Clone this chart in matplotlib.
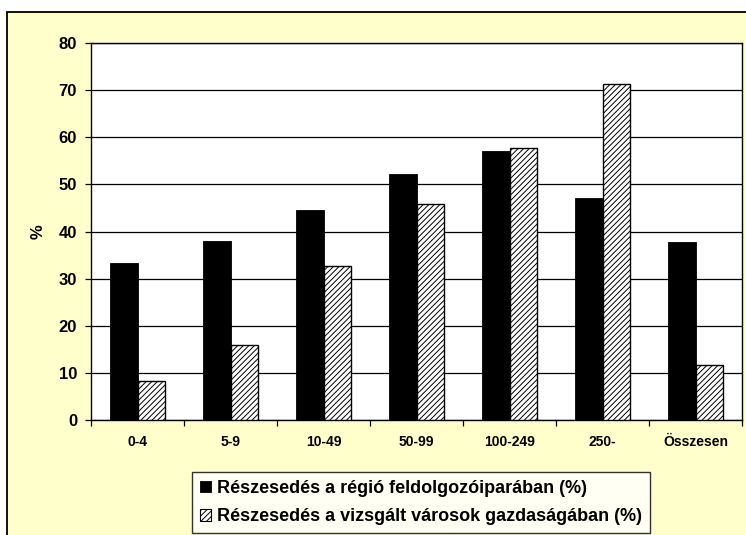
import matplotlib
matplotlib.use("Agg")
import matplotlib.pyplot as plt
import numpy as np
from matplotlib.patches import Rectangle, Patch

categories = ["0-4", "5-9", "10-49", "50-99", "100-249", "250-", "Összesen"]
regio = [33.4, 38.0, 44.6, 52.1, 57.1, 47.2, 37.8]
varosok = [8.3, 16.0, 32.7, 45.9, 57.7, 71.4, 11.7]
series_labels = ["Részesedés a régió feldolgozóiparában (%)",
                 "Részesedés a vizsgált városok gazdaságában (%)"]
yticks = [0, 10, 20, 30, 40, 50, 60, 70, 80]

plt.rcParams['font.family'] = ['Liberation Sans', 'DejaVu Sans']
plt.rcParams['hatch.linewidth'] = 0.7
plt.rcParams['hatch.color'] = '#333333'

W, H = 746, 535
fig = plt.figure(figsize=(W / 100, H / 100), dpi=100, facecolor='white')

# outer yellow chart area (cropped on right/bottom)
bg = Rectangle((7 / W, -0.2), 1.2, 1 - 12 / H + 0.2, transform=fig.transFigure,
               facecolor='#FFFFCC', edgecolor='black', linewidth=1.3, zorder=-10)
fig.patches.append(bg)

left, right, top, bottom = 91, 742, 43, 420
ax = fig.add_axes([left / W, 1 - bottom / H, (right - left) / W, (bottom - top) / H])
ax.set_facecolor('white')

x = np.arange(len(categories))
bw = 0.295
ax.bar(x - bw / 2, regio, bw, color='black', edgecolor='black', linewidth=0.6, zorder=3,
       label=series_labels[0])
ax.bar(x + bw / 2, varosok, bw, color='white', edgecolor='black', linewidth=1.0, hatch='//////',
       zorder=3, label=series_labels[1])

ax.set_xlim(-0.5, len(categories) - 0.5)
ax.set_ylim(0, 80)
ax.set_yticks(yticks)
ax.set_yticklabels([str(v) for v in yticks], fontsize=12, fontweight='bold')
ax.yaxis.grid(True, color='black', linewidth=0.9, zorder=0)
ax.set_axisbelow(True)

ax.set_xticks(x)
ax.set_xticklabels(categories, fontsize=10, fontweight='bold')
ax.set_xticks(np.arange(len(categories) + 1) - 0.5, minor=True)
ax.tick_params(axis='x', which='major', length=0, pad=11)
ax.tick_params(axis='x', which='minor', length=4, width=0.9, direction='out')
ax.tick_params(axis='y', length=4, width=0.9, direction='out', pad=6)

for s in ax.spines.values():
    s.set_linewidth(1.0)
    s.set_color('black')

fig.text(38.3 / W, 1 - 231.7 / H, '%', rotation=90, fontsize=12, fontweight='bold',
         ha='center', va='center')

handles = [Patch(facecolor='black', edgecolor='black', linewidth=0.6),
           Patch(facecolor='white', edgecolor='black', hatch='//////', linewidth=0.8)]
leg = fig.legend(handles, series_labels, loc='upper left',
                 bbox_to_anchor=(192 / W, 1 - 471.5 / H),
                 prop={'size': 13, 'weight': 'bold'},
                 frameon=True, fancybox=False, shadow=False,
                 handlelength=0.6, handleheight=0.6, handletextpad=0.35,
                 labelspacing=0.65, borderpad=0.45, borderaxespad=0)
leg.get_frame().set_edgecolor('black')
leg.get_frame().set_linewidth(1.0)
leg.get_frame().set_facecolor('white')

fig.savefig('out.png', dpi=100, facecolor=fig.get_facecolor())
